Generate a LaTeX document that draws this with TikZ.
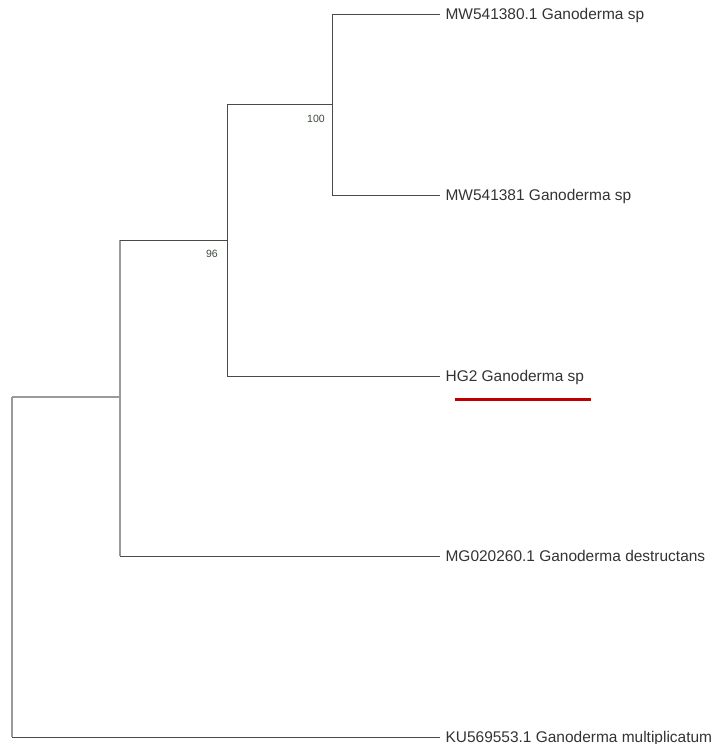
\documentclass[tikz,border=0pt]{standalone}
\usepackage{fontspec}
\setmainfont{Liberation Sans}
\usepackage{xcolor}
\definecolor{TreeLine}{HTML}{4A4A4A}
\definecolor{TreeRoot}{HTML}{9A9A9A}
\definecolor{TreeText}{HTML}{333333}
\definecolor{TreeBoot}{HTML}{3D4A3D}
\definecolor{TreeMark}{HTML}{C00000}
\tikzset{
  branch/.style={draw=TreeLine,line width=0.75pt},
  rootbranch/.style={draw=TreeRoot,line width=0.9pt},
  leaf/.style={anchor=west,inner xsep=4pt,inner ysep=0pt,text height=8.3pt,text depth=0pt,text=TreeText,font=\fontsize{11.6}{13}\selectfont},
  boot/.style={inner sep=0pt,text=TreeBoot,font=\fontsize{7.9}{9}\selectfont},
  marker/.style={draw=TreeMark,line width=2.2pt}
}

\begin{document}
\begin{tikzpicture}[x=0.75pt,y=-0.75pt]
\path[use as bounding box] (0,0) rectangle (716,744);
% internal nodes
\coordinate (root) at (12,397);
\coordinate (n1) at (120,397);
\coordinate (n2) at (227,240);
\coordinate (n3) at (332,104);
% leaves
\node[leaf] (mwa) at (440,14) {MW541380.1 Ganoderma sp};
\node[leaf] (mwb) at (440,195) {MW541381 Ganoderma sp};
\node[leaf] (hg) at (440,376) {HG2 Ganoderma sp};
\node[leaf] (mg) at (440,556) {MG020260.1 Ganoderma destructans};
\node[leaf] (ku) at (440,737) {KU569553.1 Ganoderma multiplicatum};
% branches
\draw[rootbranch] (root) -- (n1);
\draw[rootbranch] (root) -- (root |- ku.west);
\draw[branch] (root |- ku.west) -- (ku.west);
\draw[rootbranch] (n2 -| n1) -- (mg.west -| n1);
\draw[branch] (n1 |- n2) -- (n2);
\draw[branch] (n1 |- mg.west) -- (mg.west);
\draw[branch] (n2) |- (n3);
\draw[branch] (n2) |- (hg.west);
\draw[branch] (n3) |- (mwa.west);
\draw[branch] (n3) |- (mwb.west);
% bootstrap values
\node[boot] (b100) at (316,118.5) {100};
\node[boot] (b96) at (212,254) {96};
% mark under HG2
\draw[marker] (455,399.5) -- (591,399.5);
\end{tikzpicture}
\end{document}
